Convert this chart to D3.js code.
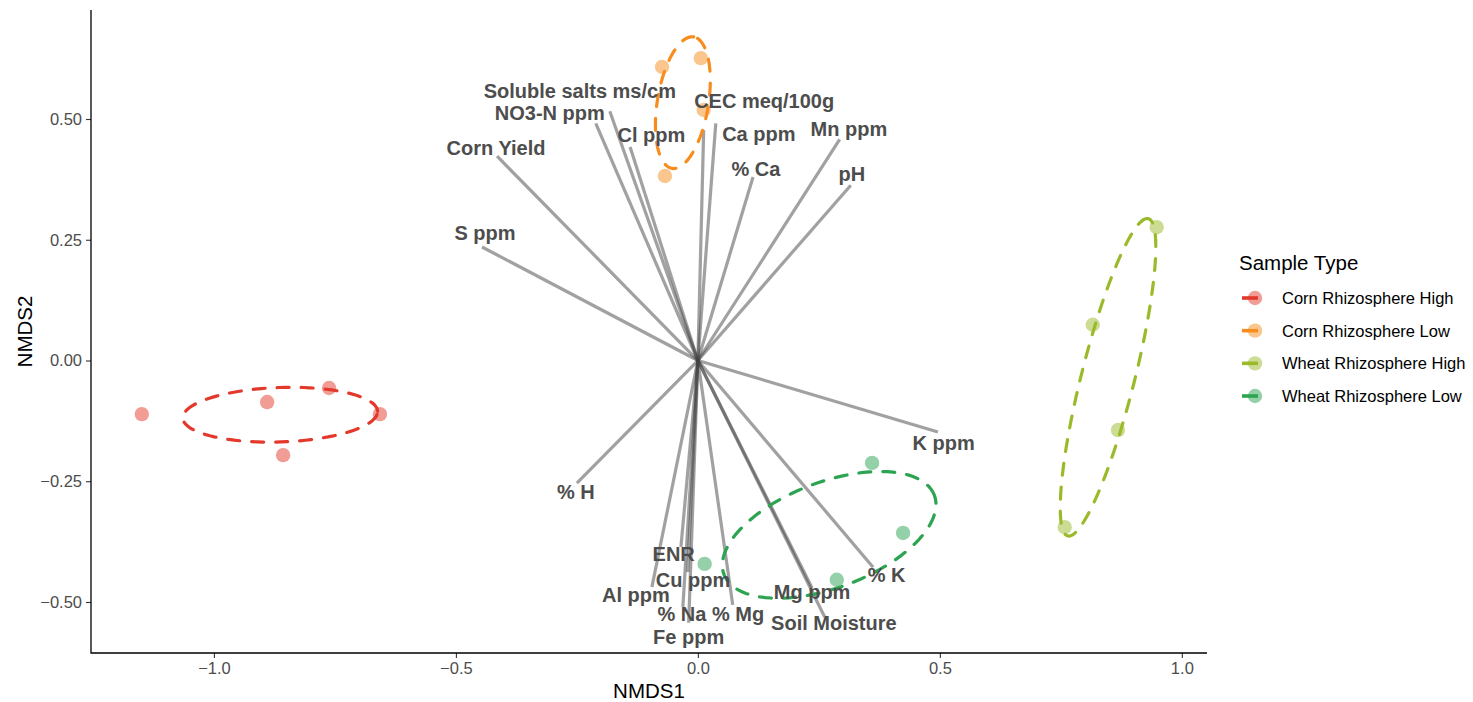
<!DOCTYPE html>
<html>
<head>
<meta charset="utf-8">
<script src="https://cdn.jsdelivr.net/npm/d3@7"></script>
<style>
  html, body { margin: 0; padding: 0; background: #fff; }
  svg { display: block; font-family: "Liberation Sans", Arial, Helvetica, sans-serif; }
</style>
</head>
<body>
<svg id="chart" width="1473" height="702"></svg>
<script>
// Sample groups and their colours
const groups = ["Corn Rhizosphere High", "Corn Rhizosphere Low", "Wheat Rhizosphere High", "Wheat Rhizosphere Low"];
const groupColors = ["#E3392C", "#F78D1E", "#9BBA2A", "#2CA451"];

// NMDS site scores
const siteGroup = [0, 0, 0, 0, 0, 1, 1, 1, 1, 2, 2, 2, 2, 3, 3, 3, 3];
const siteNMDS1 = [-1.149, -0.890, -0.762, -0.657, -0.857, -0.074, 0.006, 0.012, -0.068, 0.948, 0.816, 0.868, 0.758, 0.360, 0.424, 0.287, 0.014];
const siteNMDS2 = [-0.111, -0.086, -0.057, -0.111, -0.196, 0.608, 0.626, 0.519, 0.382, 0.276, 0.074, -0.144, -0.345, -0.212, -0.357, -0.454, -0.421];

// Fitted environmental vectors (arrow tips) and where their names sit
const envVars = ["Soluble salts ms/cm", "NO3-N ppm", "Corn Yield", "S ppm", "Cl ppm", "CEC meq/100g", "Ca ppm", "% Ca", "Mn ppm", "pH", "K ppm", "% H", "ENR", "Cu ppm", "Al ppm", "% Na", "% Mg", "Fe ppm", "Mg ppm", "Soil Moisture", "% K"];
const envNMDS1 = [-0.182, -0.211, -0.415, -0.446, -0.140, 0.012, 0.037, 0.114, 0.293, 0.316, 0.496, -0.250, -0.035, -0.021, -0.095, -0.031, 0.072, -0.019, 0.236, 0.262, 0.362];
const envNMDS2 = [0.516, 0.491, 0.423, 0.235, 0.442, 0.477, 0.491, 0.380, 0.458, 0.363, -0.148, -0.254, -0.386, -0.438, -0.469, -0.510, -0.506, -0.543, -0.471, -0.531, -0.428];
const labelNMDS1 = [-0.244, -0.306, -0.417, -0.440, -0.096, 0.137, 0.126, 0.120, 0.312, 0.318, 0.508, -0.252, -0.050, -0.010, -0.128, -0.033, 0.083, -0.019, 0.236, 0.281, 0.390];
const labelNMDS2 = [0.557, 0.512, 0.440, 0.264, 0.466, 0.537, 0.469, 0.397, 0.479, 0.386, -0.171, -0.272, -0.401, -0.454, -0.485, -0.525, -0.525, -0.572, -0.479, -0.543, -0.444];

// Axis ticks
const xTicks = [-1.0, -0.5, 0.0, 0.5, 1.0];
const yTicks = [-0.50, -0.25, 0.00, 0.25, 0.50];

const svg = d3.select("#chart");
const panel = { left: 91, right: 1207, top: 10, bottom: 653 };

const x = d3.scaleLinear().domain([-1.254, 1.052]).range([panel.left, panel.right]);
const y = d3.scaleLinear().domain([-0.6056, 0.7257]).range([panel.bottom, panel.top]);
const color = d3.scaleOrdinal().domain(d3.range(groups.length)).range(groupColors);

// 95% standard-error ellipse of a group's centroid
function seEllipse(px, py) {
  const n = px.length;
  const mx = d3.mean(px), my = d3.mean(py);
  let sxx = 0, syy = 0, sxy = 0;
  for (let i = 0; i < n; i++) {
    const dx = px[i] - mx, dy = py[i] - my;
    sxx += dx * dx; syy += dy * dy; sxy += dx * dy;
  }
  sxx /= (n - 1) * n; syy /= (n - 1) * n; sxy /= (n - 1) * n;
  const tr = sxx + syy, det = sxx * syy - sxy * sxy;
  const l1 = tr / 2 + Math.sqrt(tr * tr / 4 - det);
  const l2 = tr / 2 - Math.sqrt(tr * tr / 4 - det);
  const ang = Math.abs(sxy) < 1e-12 ? (sxx >= syy ? 0 : Math.PI / 2) : Math.atan2(l1 - sxx, sxy);
  const scale = Math.sqrt(5.991465);
  const a = scale * Math.sqrt(l1), b = scale * Math.sqrt(Math.max(l2, 0));
  const pts = [];
  for (let k = 0; k <= 100; k++) {
    const t = 2 * Math.PI * k / 100;
    const ex = a * Math.cos(t), ey = b * Math.sin(t);
    pts.push([mx + ex * Math.cos(ang) - ey * Math.sin(ang), my + ex * Math.sin(ang) + ey * Math.cos(ang)]);
  }
  return pts;
}

// Axes (ticks and labels from d3, axis lines drawn along the panel edges)
const gx = svg.append("g").attr("transform", `translate(0,${panel.bottom})`)
  .call(d3.axisBottom(x).tickValues(xTicks).tickFormat(d3.format(".1f")).tickSizeOuter(0).tickSize(5).tickPadding(4));
const gy = svg.append("g").attr("transform", `translate(${panel.left},0)`)
  .call(d3.axisLeft(y).tickValues(yTicks).tickFormat(d3.format(".2f")).tickSizeOuter(0).tickSize(5).tickPadding(4));
[gx, gy].forEach(g => {
  g.select(".domain").remove();
  g.selectAll(".tick line").attr("stroke", "#333").attr("stroke-width", 1.1);
  g.selectAll(".tick text").attr("fill", "#4d4d4d").style("font-size", "16.5px")
    .style("font-family", "'Liberation Sans', Arial, sans-serif");
});
svg.append("path")
  .attr("d", `M${panel.left},${panel.top}V${panel.bottom}H${panel.right}`)
  .attr("fill", "none").attr("stroke", "#000").attr("stroke-width", 1.3);

svg.append("text").attr("x", (panel.left + panel.right) / 2).attr("y", 690)
  .attr("text-anchor", "middle").attr("dominant-baseline", "central")
  .style("font-size", "20.5px").attr("fill", "#000").text("NMDS1");
svg.append("text")
  .attr("transform", `translate(24,${(panel.top + panel.bottom) / 2}) rotate(-90)`)
  .attr("text-anchor", "middle").attr("dominant-baseline", "central")
  .style("font-size", "20.5px").attr("fill", "#000").text("NMDS2");

// Environmental vectors from the origin
svg.append("g").selectAll("line").data(envVars).join("line")
  .attr("x1", x(0)).attr("y1", y(0))
  .attr("x2", (d, i) => x(envNMDS1[i])).attr("y2", (d, i) => y(envNMDS2[i]))
  .attr("stroke", "#444").attr("stroke-opacity", 0.5).attr("stroke-width", 3.2);

// Site points
svg.append("g").selectAll("circle").data(siteGroup).join("circle")
  .attr("cx", (d, i) => x(siteNMDS1[i])).attr("cy", (d, i) => y(siteNMDS2[i]))
  .attr("r", 7.2).attr("fill", d => color(d)).attr("fill-opacity", 0.5);

// Group ellipses
const line = d3.line().x(d => x(d[0])).y(d => y(d[1]));
groups.forEach((g, gi) => {
  const idx = siteGroup.map((s, i) => s === gi ? i : -1).filter(i => i >= 0);
  const pts = seEllipse(idx.map(i => siteNMDS1[i]), idx.map(i => siteNMDS2[i]));
  svg.append("path").attr("d", line(pts)).attr("fill", "none")
    .attr("stroke", color(gi)).attr("stroke-width", 3.2)
    .attr("stroke-dasharray", "12 12").attr("stroke-linecap", "round");
});

// Vector names
svg.append("g").selectAll("text").data(envVars).join("text")
  .attr("x", (d, i) => x(labelNMDS1[i])).attr("y", (d, i) => y(labelNMDS2[i]))
  .attr("text-anchor", "middle").attr("dominant-baseline", "central")
  .style("font-size", "20px").style("font-weight", "bold").attr("fill", "#4d4d4d")
  .text(d => d);

// Legend
const legend = svg.append("g");
legend.append("text").attr("x", 1239).attr("y", 262).attr("dominant-baseline", "central")
  .style("font-size", "20.5px").attr("fill", "#000").text("Sample Type");
const legendY = d3.scalePoint().domain(d3.range(groups.length)).range([298, 396]);
groups.forEach((g, gi) => {
  const row = legend.append("g").attr("transform", `translate(0,${legendY(gi)})`);
  row.append("line").attr("x1", 1242).attr("x2", 1258).attr("y1", 0).attr("y2", 0)
    .attr("stroke", color(gi)).attr("stroke-width", 3.6);
  row.append("circle").attr("cx", 1255).attr("cy", 0).attr("r", 7.2)
    .attr("fill", color(gi)).attr("fill-opacity", 0.5);
  row.append("text").attr("x", 1282).attr("y", 0).attr("dominant-baseline", "central")
    .style("font-size", "16.5px").attr("fill", "#000").text(g);
});
</script>
</body>
</html>
